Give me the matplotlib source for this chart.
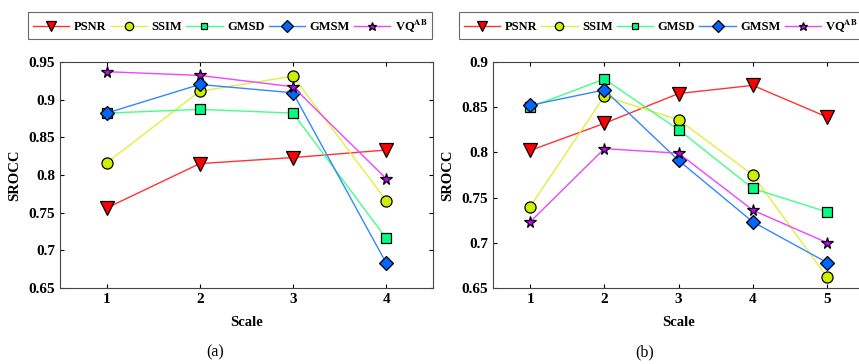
import matplotlib
matplotlib.use('Agg')
import matplotlib.pyplot as plt

plt.rcParams['font.family'] = ['Liberation Serif', 'DejaVu Serif']
plt.rcParams['font.weight'] = 'bold'
plt.rcParams['mathtext.fontset'] = 'stix'

names = ['PSNR', 'SSIM', 'GMSD', 'GMSM', 'VQ$^{\\mathbf{AB}}$']

# (a) scales 1-4
scales_a = [1, 2, 3, 4]
psnr_a = [0.756, 0.815, 0.823, 0.833]
ssim_a = [0.816, 0.911, 0.931, 0.766]
gmsd_a = [0.882, 0.887, 0.882, 0.716]
gmsm_a = [0.882, 0.920, 0.909, 0.683]
vq_a = [0.937, 0.932, 0.917, 0.795]

# (b) scales 1-5
scales_b = [1, 2, 3, 4, 5]
psnr_b = [0.802, 0.832, 0.865, 0.874, 0.839]
ssim_b = [0.740, 0.862, 0.836, 0.775, 0.662]
gmsd_b = [0.850, 0.881, 0.825, 0.760, 0.734]
gmsm_b = [0.852, 0.869, 0.791, 0.723, 0.678]
vq_b = [0.723, 0.804, 0.799, 0.736, 0.700]

markers = ['v', 'o', 's', 'D', '*']
sizes = [10, 8, 6.5, 7.5, 8.5]
faces = ['#ff0000', '#ccf000', '#00ff80', '#0066ff', '#cc00ff']
lines = ['#ff3333', '#e0f040', '#44ff88', '#3388ff', '#ee44ff']

fig = plt.figure(figsize=(8.59, 3.64), dpi=100)


def draw(ax, x, series, ylim, yticks):
    handles = []
    for i, y in enumerate(series):
        h, = ax.plot(x, y, color=lines[i], lw=1.0, marker=markers[i], ms=sizes[i],
                     mfc=faces[i], mec='black', mew=0.9, label=names[i])
        handles.append(h)
    ax.set_xlim(0.5, len(x) + 0.5)
    ax.set_ylim(*ylim)
    ax.set_xticks(x)
    ax.set_yticks(yticks)
    ax.set_yticklabels([('%.2f' % t).rstrip('0') for t in yticks])
    ax.tick_params(direction='in', length=3, labelsize=11, top=True, right=True,
                   labeltop=False, labelright=False)
    for lab in ax.get_xticklabels() + ax.get_yticklabels():
        lab.set_fontweight('bold')
    ax.set_xlabel('Scale', fontsize=10.5, fontweight='bold', labelpad=7)
    ax.set_ylabel('SROCC', fontsize=10.5, fontweight='bold', labelpad=5)
    for s in ax.spines.values():
        s.set_color('#444444')
        s.set_linewidth(0.8)
    return handles


ax1 = fig.add_axes([0.0698, 0.209, 0.434, 0.621])
h1 = draw(ax1, scales_a, [psnr_a, ssim_a, gmsd_a, gmsm_a, vq_a], (0.65, 0.95),
          [0.65, 0.7, 0.75, 0.8, 0.85, 0.9, 0.95])
ax2 = fig.add_axes([0.574, 0.209, 0.432, 0.621])
h2 = draw(ax2, scales_b, [psnr_b, ssim_b, gmsd_b, gmsm_b, vq_b], (0.65, 0.9),
          [0.65, 0.7, 0.75, 0.8, 0.85, 0.9])

for anchor, hs in [((0.0326, 0.967), h1), ((0.534, 0.967), h2)]:
    leg = fig.legend(handles=hs, loc='upper left', bbox_to_anchor=anchor,
                     ncol=5, fancybox=False, edgecolor='#444444', handlelength=2.9,
                     handletextpad=0.35, columnspacing=0.35, borderpad=0.4,
                     borderaxespad=0, markerscale=0.75,
                     prop={'size': 9, 'weight': 'bold'})
    leg.get_frame().set_linewidth(0.8)

fig.text(0.25, 0.033, '(a)', ha='center', va='center', fontsize=11.5, fontweight='normal')
fig.text(0.751, 0.033, '(b)', ha='center', va='center', fontsize=11.5, fontweight='normal')

fig.savefig('out.png', dpi=100)
